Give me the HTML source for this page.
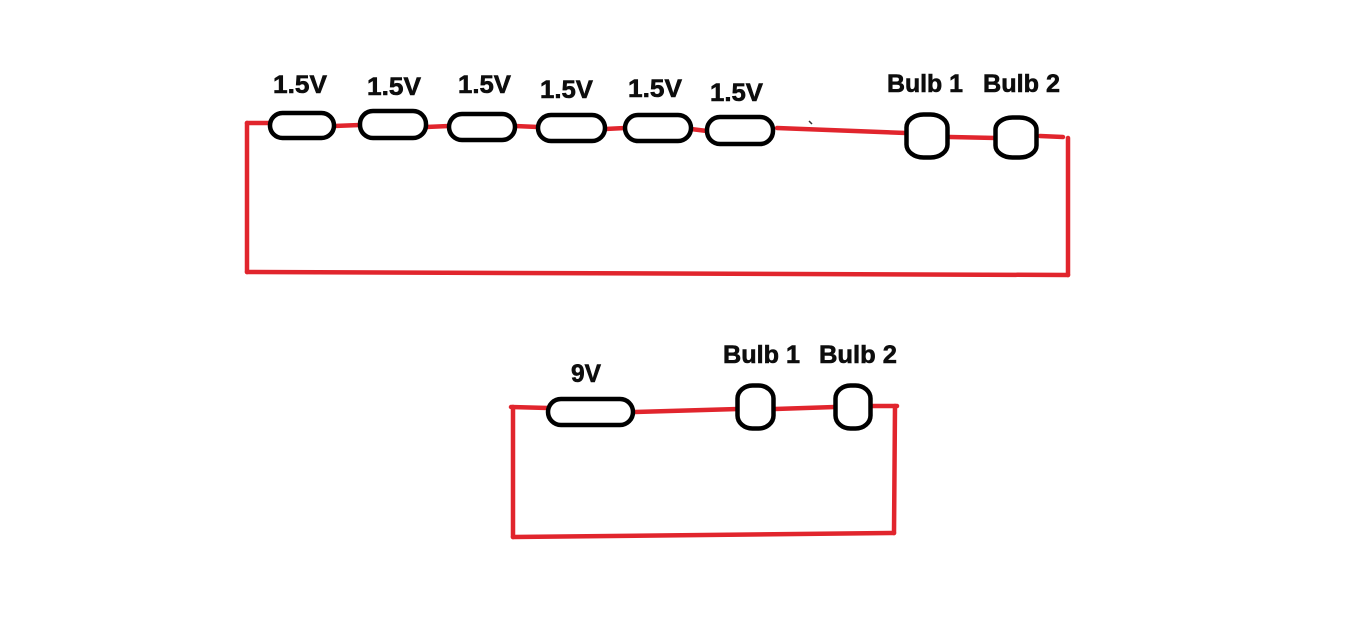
<!DOCTYPE html>
<html>
<head>
<meta charset="utf-8">
<style>
html,body{margin:0;padding:0;background:#fff;}
svg{display:block;}
text{font-family:"Liberation Sans",sans-serif;font-weight:bold;font-size:25px;fill:#0d0d0d;stroke:#0d0d0d;stroke-width:0.6;}
</style>
</head>
<body>
<svg width="1350" height="629" viewBox="0 0 1350 629" xmlns="http://www.w3.org/2000/svg">
<g stroke="#e1252d" stroke-width="4.5" stroke-linecap="round" fill="none">
  <!-- top circuit wires -->
  <line x1="247" y1="123" x2="270" y2="123"/>
  <line x1="334" y1="126" x2="360" y2="125"/>
  <line x1="426" y1="127" x2="449" y2="126"/>
  <line x1="515" y1="126" x2="538" y2="127"/>
  <line x1="605" y1="129" x2="625" y2="128"/>
  <line x1="691" y1="129" x2="707" y2="131"/>
  <line x1="777" y1="128" x2="906" y2="133"/>
  <line x1="950" y1="137" x2="996" y2="138"/>
  <line x1="1040" y1="136" x2="1063" y2="137"/>
  <line x1="1068" y1="138" x2="1068" y2="275"/>
  <line x1="247" y1="123" x2="247" y2="272"/>
  <line x1="247" y1="272" x2="1068" y2="275"/>
  <!-- bottom circuit wires -->
  <line x1="511" y1="407" x2="548" y2="408"/>
  <line x1="634" y1="412" x2="738" y2="409"/>
  <line x1="775" y1="409" x2="835" y2="407"/>
  <line x1="872" y1="406" x2="897" y2="406"/>
  <line x1="513" y1="407" x2="513" y2="537"/>
  <line x1="895" y1="406" x2="894" y2="533"/>
  <line x1="513" y1="537" x2="894" y2="533"/>
</g>
<g stroke="#000" stroke-width="4.5" fill="#fff">
  <!-- top batteries -->
  <rect x="270" y="113" width="64" height="25" rx="12.5"/>
  <rect x="360" y="111" width="66" height="27" rx="13"/>
  <rect x="449" y="114" width="66" height="26" rx="13"/>
  <rect x="538" y="115" width="67" height="26" rx="13"/>
  <rect x="625" y="115" width="66" height="26" rx="13"/>
  <rect x="707" y="117" width="66" height="27" rx="13"/>
  <!-- top bulbs -->
  <rect x="906.5" y="114.5" width="41" height="43" rx="17" ry="13"/>
  <rect x="995.5" y="117.5" width="41" height="40" rx="17" ry="12"/>
  <!-- bottom battery -->
  <rect x="548" y="399" width="85" height="26" rx="13"/>
  <!-- bottom bulbs -->
  <rect x="737.5" y="385.5" width="36" height="43" rx="15" ry="13"/>
  <rect x="835.5" y="385.5" width="35" height="43" rx="15" ry="13"/>
</g>
<line x1="809" y1="121" x2="812" y2="124" stroke="#333" stroke-width="1.5"/>
<!-- labels -->
<text x="273" y="93" textLength="54" lengthAdjust="spacingAndGlyphs">1.5V</text>
<text x="367" y="95" textLength="54" lengthAdjust="spacingAndGlyphs">1.5V</text>
<text x="458" y="93" textLength="53" lengthAdjust="spacingAndGlyphs">1.5V</text>
<text x="540" y="98" textLength="53" lengthAdjust="spacingAndGlyphs">1.5V</text>
<text x="628" y="97" textLength="54" lengthAdjust="spacingAndGlyphs">1.5V</text>
<text x="710" y="101" textLength="53" lengthAdjust="spacingAndGlyphs">1.5V</text>
<text x="887" y="92" textLength="76" lengthAdjust="spacingAndGlyphs">Bulb 1</text>
<text x="983" y="92" textLength="77" lengthAdjust="spacingAndGlyphs">Bulb 2</text>
<text x="571" y="382" textLength="30" lengthAdjust="spacingAndGlyphs">9V</text>
<text x="723" y="363" textLength="77" lengthAdjust="spacingAndGlyphs">Bulb 1</text>
<text x="819" y="363" textLength="78" lengthAdjust="spacingAndGlyphs">Bulb 2</text>
</svg>
</body>
</html>
